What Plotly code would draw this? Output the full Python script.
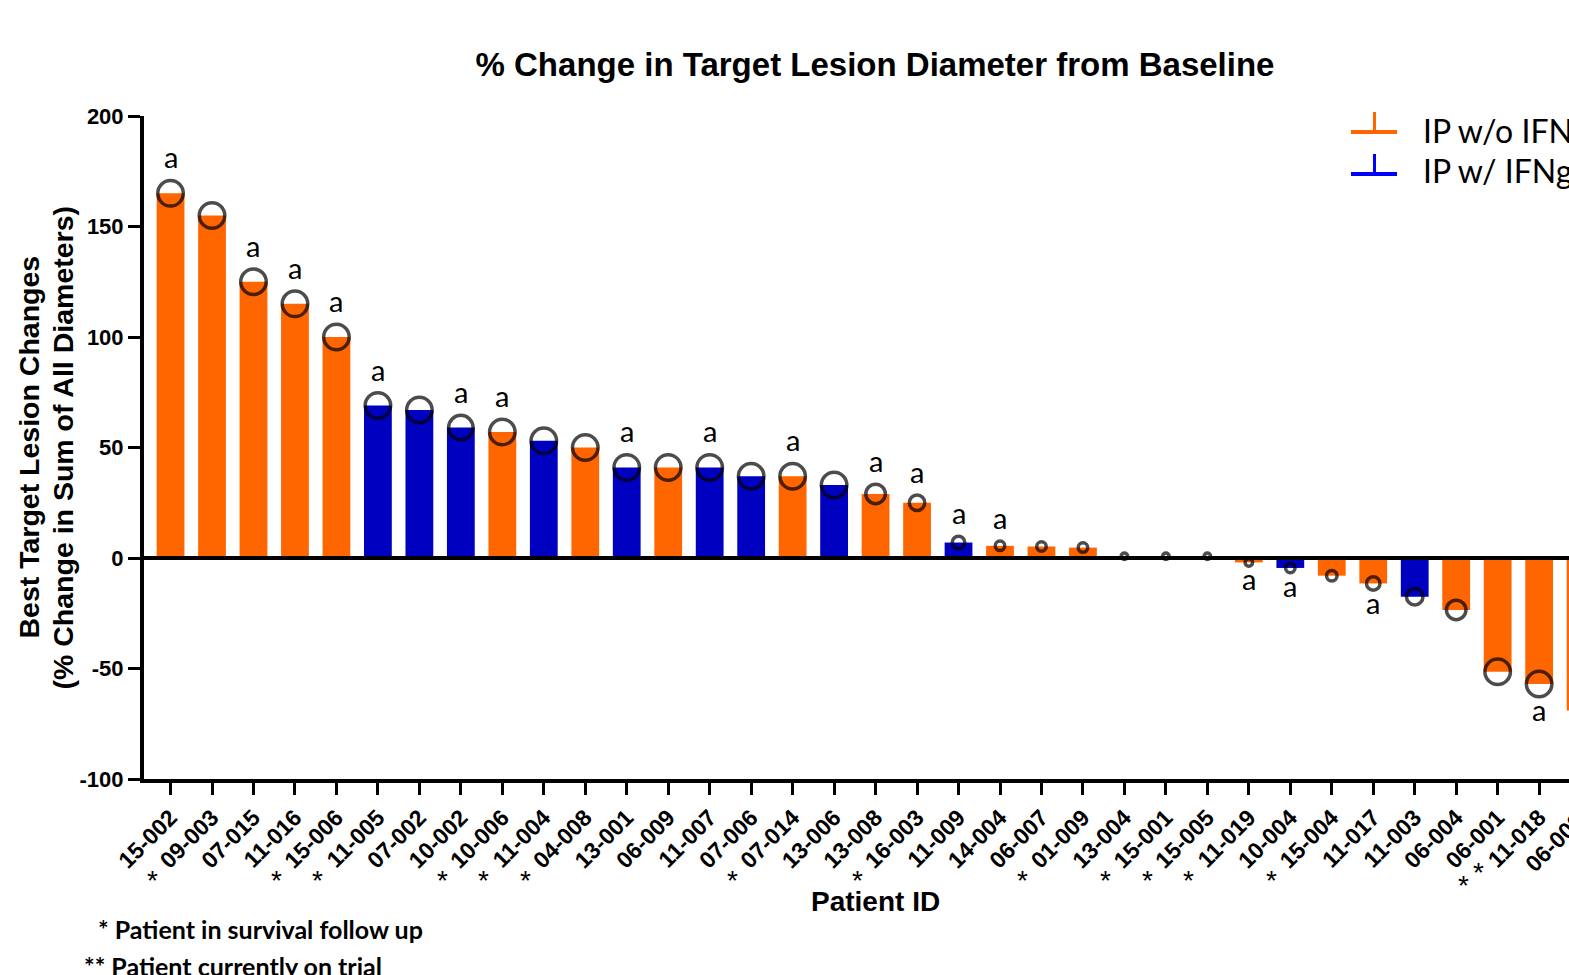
import plotly.graph_objects as go

# ---------------- data ----------------
patients = ["15-002", "09-003", "07-015", "11-016", "15-006", "11-005", "07-002",
            "10-002", "10-006", "11-004", "04-008", "13-001", "06-009", "11-007",
            "07-006", "07-014", "13-006", "13-008", "16-003", "11-009", "14-004",
            "06-007", "01-009", "13-004", "15-001", "15-005", "11-019", "10-004",
            "15-004", "11-017", "11-003", "06-004", "06-001", "11-018", "06-002"]
pct_change = [165, 155, 125, 115, 100, 69, 67,
              59, 57, 53, 50, 41, 41, 41,
              37, 37, 33, 29, 25, 7, 5.5,
              5.2, 4.7, 0.8, 0.8, 0.8, -2, -4.5,
              -8, -11.5, -17.5, -23.5, -51.5, -57, -69]
with_ifng = [0, 0, 0, 0, 0, 1, 1,
             1, 0, 1, 0, 1, 0, 1,
             1, 0, 1, 0, 0, 1, 0,
             0, 0, 0, 0, 0, 0, 1,
             0, 0, 1, 0, 0, 0, 0]
circle_size = [29, 29, 29, 29, 29, 29, 29,
               28, 29, 29, 29, 29, 29, 29,
               29, 29, 29, 23, 19, 16, 13,
               13, 13, 10, 10, 10, 11, 13,
               14, 17, 20, 23, 29, 29, 29]
flag_a = [1, 0, 1, 1, 1, 1, 0,
          1, 1, 0, 0, 1, 0, 1,
          0, 1, 0, 1, 1, 1, 1,
          0, 0, 0, 0, 0, 1, 1,
          0, 1, 0, 0, 0, 1, 0]
# 1 = "* Patient in survival follow up", 2 = "** Patient currently on trial"
status = [0, 1, 0, 0, 1, 1, 0,
          0, 1, 1, 1, 0, 0, 0,
          0, 1, 0, 0, 1, 0, 0,
          0, 1, 0, 1, 1, 1, 0,
          1, 0, 0, 0, 0, 2, 0]
y_ticks = [-100, -50, 0, 50, 100, 150, 200]
legend_names = ["IP w/o IFNg", "IP w/ IFNg"]

# ---------------- styling / geometry ----------------
W, H = 1569, 975
ML, MR, MT, MB = 144, 0, 116, 196
PW, PH = W - ML - MR, H - MT - MB
XMIN, XMAX = -0.64, 33.72          # last patient is cut by the right edge
ORANGE, BLUE, LEG_BLUE = "#FF6600", "#0000C0", "#0000FF"
ARIAL = "Liberation Sans, Arial, sans-serif"
CALIBRI = "Lato, Carlito, Calibri, sans-serif"
TICK_SIZE = 23
STROKE = 3.5


def px2paper_x(x):
    return (x - ML) / PW


def px2paper_y(y):
    return 1 - (y - MT) / PH


bar_colors = [BLUE if g else ORANGE for g in with_ifng]

fig = go.Figure()
fig.add_trace(go.Bar(x=patients, y=pct_change, marker=dict(color=bar_colors, line=dict(width=0)),
                     width=0.67, showlegend=False, hoverinfo="x+y"))
fig.add_trace(go.Scatter(x=patients, y=pct_change, mode="markers", cliponaxis=False,
                         marker=dict(symbol="circle-open", color="black",
                                     size=[s - STROKE for s in circle_size],
                                     line=dict(width=STROKE)),
                         showlegend=False, hoverinfo="skip"))

annotations = []
# "a" markers
for p, v, s, f in zip(patients, pct_change, circle_size, flag_a):
    if not f:
        continue
    annotations.append(dict(x=p, y=v, xref="x", yref="y", text="a", showarrow=False,
                            yshift=(s / 2 + 22) if v >= 0 else -(s / 2 + 11),
                            font=dict(family=CALIBRI, size=29, color="black")))
# asterisks under patient IDs
for p, st in zip(patients, status):
    if st == 1:
        annotations.append(dict(x=p, y=0, xref="x", yref="paper", text="*", showarrow=False,
                                xshift=-60, yshift=-119,
                                font=dict(family=ARIAL, size=28, color="black")))
    elif st == 2:
        for xs, ys in ((-76, -124), (-61, -111)):
            annotations.append(dict(x=p, y=0, xref="x", yref="paper", text="*", showarrow=False,
                                    xshift=xs, yshift=ys,
                                    font=dict(family=ARIAL, size=28, color="black")))
# label of the last (cut-off) patient, outside the visible axis range
last_idx = len(patients) - 1
annotations.append(dict(x=(last_idx - XMIN) / (XMAX - XMIN), y=0, xref="paper", yref="paper",
                        text="<b>%s</b>" % patients[-1], textangle=-45, showarrow=False,
                        xanchor="right", yanchor="top", xshift=12, yshift=-26,
                        font=dict(family=ARIAL, size=TICK_SIZE, color="black")))
# axis titles
annotations.append(dict(x=0, y=0.5, xref="paper", yref="paper", textangle=-90, showarrow=False,
                        text="<b>Best Target Lesion Changes</b>", xshift=-116,
                        xanchor="center", yanchor="middle",
                        font=dict(family=ARIAL, size=28.5, color="black")))
annotations.append(dict(x=0, y=0.5, xref="paper", yref="paper", textangle=-90, showarrow=False,
                        text="<b>(% Change in Sum of All Diameters)</b>", xshift=-82,
                        xanchor="center", yanchor="middle",
                        font=dict(family=ARIAL, size=28.5, color="black")))
annotations.append(dict(x=px2paper_x(875), y=0, xref="paper", yref="paper", showarrow=False,
                        text="<b>Patient ID</b>", yshift=-122, yanchor="middle",
                        font=dict(family=ARIAL, size=28, color="black")))
# footnotes
annotations.append(dict(x=px2paper_x(96), y=px2paper_y(929), xref="paper", yref="paper",
                        xanchor="left", yanchor="middle", showarrow=False,
                        text="<b>* Patient in survival follow up</b>",
                        font=dict(family=CALIBRI, size=25, color="black")))
annotations.append(dict(x=px2paper_x(82), y=px2paper_y(966), xref="paper", yref="paper",
                        xanchor="left", yanchor="middle", showarrow=False,
                        text="<b>** Patient currently on trial</b>",
                        font=dict(family=CALIBRI, size=25, color="black")))
# legend text
for name, yc in zip(legend_names, (130, 170)):
    annotations.append(dict(x=px2paper_x(1421), y=px2paper_y(yc), xref="paper", yref="paper",
                            xanchor="left", yanchor="middle", showarrow=False, text=name,
                            font=dict(family=CALIBRI, size=32, color="black")))

shapes = [
    # zero line above bars
    dict(type="line", xref="paper", yref="y", x0=0, x1=1, y0=0, y1=0,
         line=dict(color="black", width=4), layer="above"),
]
# legend symbols (error-bar style)
for col, yb in ((ORANGE, 132), (LEG_BLUE, 174)):
    shapes.append(dict(type="line", xref="paper", yref="paper",
                       x0=px2paper_x(1351), x1=px2paper_x(1397),
                       y0=px2paper_y(yb), y1=px2paper_y(yb), line=dict(color=col, width=4)))
    shapes.append(dict(type="line", xref="paper", yref="paper",
                       x0=px2paper_x(1374.5), x1=px2paper_x(1374.5),
                       y0=px2paper_y(yb), y1=px2paper_y(yb - 20), line=dict(color=col, width=3)))

fig.update_layout(
    width=W, height=H, autosize=False,
    margin=dict(l=ML, r=MR, t=MT, b=MB, pad=0),
    paper_bgcolor="white", plot_bgcolor="white",
    showlegend=False,
    title=dict(text="<b>% Change in Target Lesion Diameter from Baseline</b>",
               x=px2paper_x(875), xref="paper", xanchor="center",
               y=1 - 64 / H, yref="container", yanchor="middle",
               font=dict(family=ARIAL, size=33, color="black")),
    xaxis=dict(type="category", range=[XMIN, XMAX], showline=True, linecolor="black",
               linewidth=4, ticks="outside", ticklen=12, tickwidth=3, tickcolor="black",
               tickangle=-45, showgrid=False, zeroline=False,
               tickfont=dict(family=ARIAL, size=TICK_SIZE, color="black", weight="bold")),
    yaxis=dict(range=[-100, 200], tickvals=y_ticks, ticktext=[str(t) for t in y_ticks],
               showline=True, linecolor="black",
               linewidth=4, ticks="outside", ticklen=12, tickwidth=3, tickcolor="black",
               showgrid=False, zeroline=False,
               tickfont=dict(family=ARIAL, size=22, color="black", weight="bold")),
    annotations=annotations,
    shapes=shapes,
)

fig.write_html("out.html")
